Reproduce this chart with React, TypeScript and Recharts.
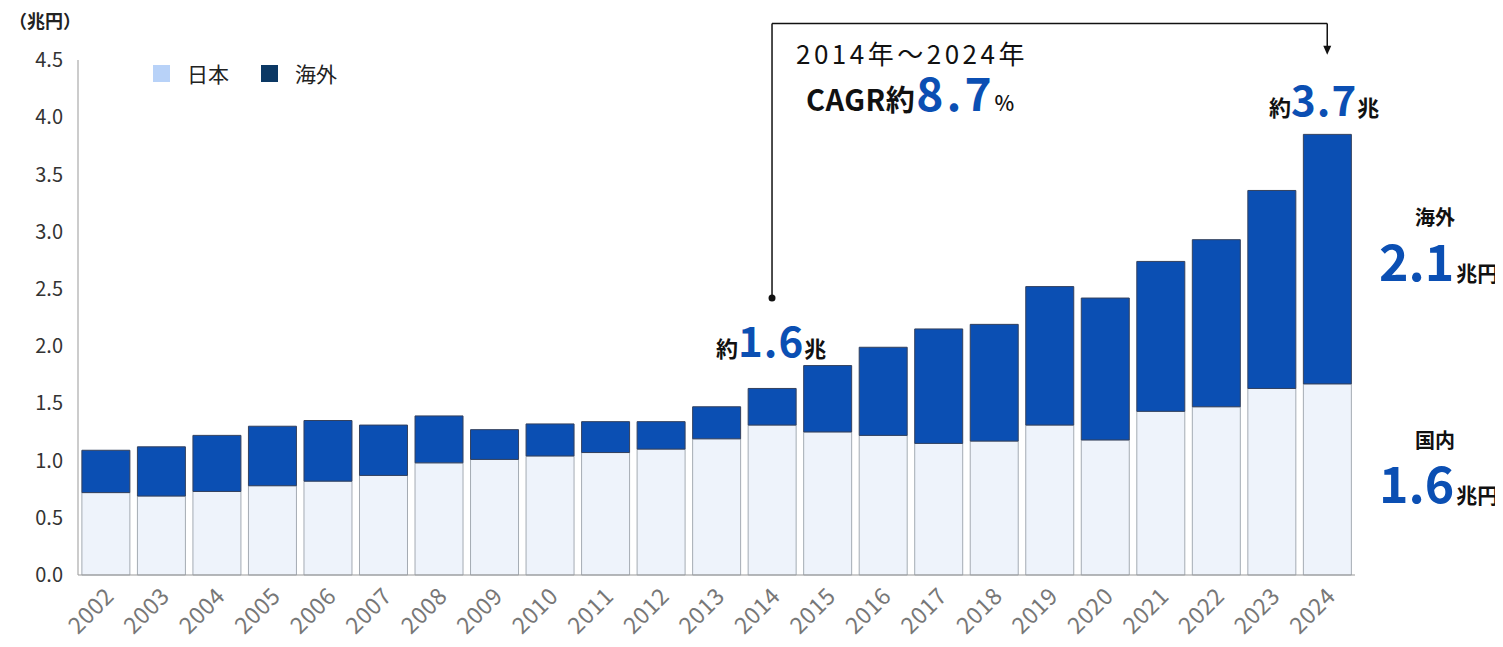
import { Bar, BarChart, XAxis, YAxis, ReferenceLine, ReferenceDot } from "recharts"

const years = ["2002", "2003", "2004", "2005", "2006", "2007", "2008", "2009", "2010", "2011", "2012", "2013", "2014", "2015", "2016", "2017", "2018", "2019", "2020", "2021", "2022", "2023", "2024"]
const domestic = [0.72, 0.69, 0.73, 0.78, 0.82, 0.87, 0.98, 1.01, 1.04, 1.07, 1.1, 1.19, 1.31, 1.25, 1.22, 1.15, 1.17, 1.31, 1.18, 1.43, 1.47, 1.63, 1.67]
const overseas = [0.37, 0.43, 0.49, 0.52, 0.53, 0.44, 0.41, 0.26, 0.28, 0.27, 0.24, 0.28, 0.32, 0.58, 0.77, 1.0, 1.02, 1.21, 1.24, 1.31, 1.46, 1.73, 2.18]
const yTicks = [0, 0.5, 1, 1.5, 2, 2.5, 3, 3.5, 4, 4.5]

const data = years.map((year, i) => ({ year, domestic: domestic[i], overseas: overseas[i] }))

const FONT = '"Noto Sans CJK JP", "Noto Sans", sans-serif'
const BLUE = "#0b4fb3"

const XTick = (props: any) => {
  const { x, y, payload } = props
  const ax = x + 4
  const ay = y + 9
  return (
    <text x={ax} y={ay} dy="0.35em" textAnchor="end" transform={`rotate(-45 ${ax} ${ay})`} fill="#777" fontSize={23} letterSpacing={0.5} fontFamily={FONT}>
      {payload.value}
    </text>
  )
}

const ArrowHead = (props: any) => {
  const { cx, cy } = props
  return <path d={`M${cx - 4},${cy - 9} L${cx + 4},${cy - 9} L${cx},${cy} Z`} fill="#111" />
}

const legendItems = [
  { label: "日本", color: "#b8d2f8" },
  { label: "海外", color: "#0b3864" },
]

const abs = (left: number, top: number, extra: any = {}) => ({
  position: "absolute" as const,
  left,
  top,
  fontFamily: FONT,
  whiteSpace: "nowrap" as const,
  lineHeight: 1,
  ...extra,
})

export default function App() {
  return (
    <div style={{ position: "relative", width: 1503, height: 647, margin: -8, background: "#fff", overflow: "hidden" }}>
      <BarChart width={1503} height={647} data={data} margin={{ top: 60, right: 148, bottom: 0, left: 0 }} barCategoryGap="7%">
        <XAxis dataKey="year" height={72} interval={0} tickLine={false} axisLine={{ stroke: "#999" }} tick={<XTick />} />
        <YAxis
          width={78}
          domain={[0, 4.5]}
          ticks={yTicks}
          tickFormatter={(v: number) => v.toFixed(1)}
          tickLine={false}
          tickMargin={9}
          axisLine={{ stroke: "#999" }}
          tick={{ fill: "#333", fontSize: 20, fontFamily: FONT }}
        />
        <Bar dataKey="domestic" stackId="a" fill="#eef3fb" stroke="#a4abb3" strokeWidth={1} isAnimationActive={false} />
        <Bar dataKey="overseas" stackId="a" fill={BLUE} stroke="#33415e" strokeWidth={1} isAnimationActive={false} />
        <ReferenceLine segment={[{ x: "2014", y: 2.42 }, { x: "2014", y: 4.82 }]} stroke="#111" strokeWidth={1.5} ifOverflow="visible" />
        <ReferenceLine segment={[{ x: "2014", y: 4.82 }, { x: "2024", y: 4.82 }]} stroke="#111" strokeWidth={1.5} ifOverflow="visible" />
        <ReferenceLine segment={[{ x: "2024", y: 4.82 }, { x: "2024", y: 4.6 }]} stroke="#111" strokeWidth={1.5} ifOverflow="visible" />
        <ReferenceDot x="2014" y={2.42} r={3.5} fill="#111" stroke="none" ifOverflow="visible" />
        <ReferenceDot x="2024" y={4.545} shape={<ArrowHead />} ifOverflow="visible" />
      </BarChart>

      <div style={abs(153, 63, { display: "flex", gap: 32, fontSize: 21, color: "#222" })}>
        {legendItems.map((it) => (
          <div key={it.label} style={{ display: "flex", alignItems: "center", gap: 17 }}>
            <span style={{ width: 17, height: 17, background: it.color, display: "inline-block" }} />
            <span>{it.label}</span>
          </div>
        ))}
      </div>

      <div style={abs(9, 11, { fontSize: 18, fontWeight: 700, color: "#222" })}>（兆円）</div>

      <div style={abs(796, 40, { fontSize: 26, color: "#111", letterSpacing: 3.5 })}>2014年～2024年</div>
      <div style={abs(806, 73, { color: "#111", display: "flex", alignItems: "baseline", fontWeight: 700 })}>
        <span style={{ fontSize: 29, letterSpacing: 0.5 }}>CAGR約</span>
        <span style={{ fontSize: 46, lineHeight: 0.8, color: BLUE, letterSpacing: 3, fontWeight: 600, marginLeft: 1 }}>8.7</span>
        <span style={{ fontSize: 21, fontWeight: 500 }}>%</span>
      </div>

      <div style={abs(716, 318, { color: "#111", display: "flex", alignItems: "baseline", fontWeight: 700 })}>
        <span style={{ fontSize: 22 }}>約</span>
        <span style={{ fontSize: 42, color: BLUE, letterSpacing: 1, fontWeight: 600 }}>1.6</span>
        <span style={{ fontSize: 22 }}>兆</span>
      </div>

      <div style={abs(1269, 77, { color: "#111", display: "flex", alignItems: "baseline", fontWeight: 700 })}>
        <span style={{ fontSize: 22 }}>約</span>
        <span style={{ fontSize: 42, color: BLUE, letterSpacing: 1, fontWeight: 600 }}>3.7</span>
        <span style={{ fontSize: 22 }}>兆</span>
      </div>

      <div style={abs(1415, 207, { fontSize: 20, fontWeight: 700, color: "#111" })}>海外</div>
      <div style={abs(1379, 239, { color: "#111", display: "flex", alignItems: "baseline", fontWeight: 700 })}>
        <span style={{ fontSize: 50, lineHeight: 0.8, color: BLUE, fontWeight: 600 }}>2.1</span>
        <span style={{ fontSize: 21, marginLeft: 2 }}>兆円</span>
      </div>

      <div style={abs(1415, 430, { fontSize: 20, fontWeight: 700, color: "#111" })}>国内</div>
      <div style={abs(1379, 461, { color: "#111", display: "flex", alignItems: "baseline", fontWeight: 700 })}>
        <span style={{ fontSize: 50, lineHeight: 0.8, color: BLUE, fontWeight: 600 }}>1.6</span>
        <span style={{ fontSize: 21, marginLeft: 2 }}>兆円</span>
      </div>
    </div>
  )
}
